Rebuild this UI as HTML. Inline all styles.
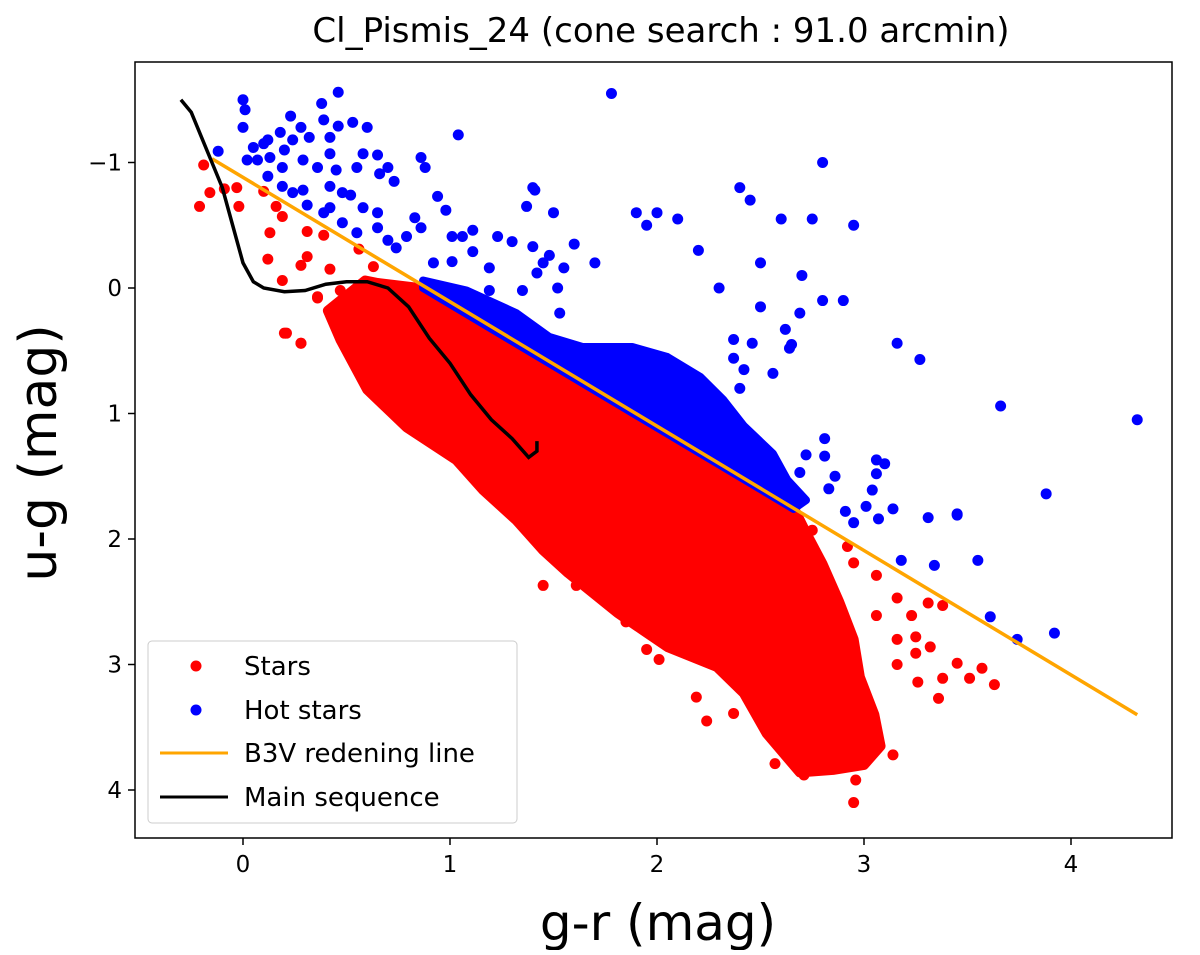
<!DOCTYPE html>
<html><head><meta charset="utf-8"><style>
body{margin:0;background:#fff}
svg{font-family:"DejaVu Sans","Liberation Sans",sans-serif}
</style></head><body>
<svg id="chart" width="1200" height="950">
<text x="661" y="42" text-anchor="middle" font-size="34">Cl_Pismis_24 (cone search : 91.0 arcmin)</text>
<g id="plot"></g>
<rect x="135" y="62" width="1037" height="776" fill="none" stroke="#000" stroke-width="1.5"/>
<g id="axes"></g>
<text x="658" y="940" text-anchor="middle" font-size="50">g-r (mag)</text>
<text transform="translate(56,453) rotate(-90)" text-anchor="middle" font-size="52">u-g (mag)</text>
<g>
<rect x="148" y="641" width="369" height="182" rx="4" fill="#fff" fill-opacity="0.85" stroke="#ccc"/>
<circle cx="196" cy="666" r="5.5" fill="red"/>
<text x="244" y="675" font-size="26">Stars</text>
<circle cx="196" cy="710" r="5.5" fill="blue"/>
<text x="244" y="719" font-size="26">Hot stars</text>
<line x1="160" x2="228" y1="753" y2="753" stroke="orange" stroke-width="3"/>
<text x="244" y="762" font-size="26">B3V redening line</text>
<line x1="160" x2="228" y1="797" y2="797" stroke="#000" stroke-width="3"/>
<text x="244" y="806" font-size="26">Main sequence</text>
</g>
</svg>
<script>
const xTicks=[0,1,2,3,4];
const yTicks=[-1,0,1,2,3,4];
const redCloud=[[0.59,-0.06],[0.65,-0.04],[0.85,0.0],[1.5,0.6],[2.0,1.1],[2.66,1.75],[2.72,1.95],[2.8,2.2],[2.88,2.5],[2.95,2.8],[2.98,3.1],[3.05,3.4],[3.08,3.65],[3.0,3.8],[2.85,3.84],[2.69,3.86],[2.53,3.55],[2.42,3.23],[2.29,3.02],[2.05,2.86],[1.81,2.59],[1.57,2.27],[1.45,2.09],[1.32,1.85],[1.16,1.61],[1.03,1.37],[0.79,1.11],[0.6,0.81],[0.47,0.41],[0.41,0.18]];
const blueCloud=[[0.87,-0.06],[1.08,0.02],[1.32,0.2],[1.48,0.39],[1.64,0.47],[1.88,0.47],[2.05,0.55],[2.21,0.71],[2.32,0.89],[2.42,1.1],[2.56,1.32],[2.63,1.53],[2.72,1.69],[2.66,1.76],[0.87,0.0]];
const redX=[-0.19,-0.21,-0.16,-0.03,-0.02,-0.09,0.19,0.13,0.12,0.19,0.31,0.31,0.28,0.42,0.36,0.47,0.56,0.63,0.16,0.1,0.39,0.21,0.28,2.75,2.92,2.95,3.06,3.16,3.31,3.38,3.23,3.06,3.25,3.16,3.32,3.25,3.16,3.45,3.57,3.51,3.38,3.26,3.63,3.36,2.24,2.19,2.57,2.71,2.95,2.96,3.14,1.95,1.85,2.01,2.37,1.45,1.61,0.2,0.28,0.36];
const redY=[-0.98,-0.65,-0.76,-0.8,-0.65,-0.79,-0.57,-0.44,-0.23,-0.06,-0.45,-0.25,-0.18,-0.15,0.08,0.02,-0.31,-0.17,-0.65,-0.77,-0.42,0.36,0.44,1.93,2.06,2.19,2.29,2.47,2.51,2.53,2.61,2.61,2.78,2.8,2.86,2.91,3.0,2.99,3.03,3.11,3.11,3.14,3.16,3.27,3.45,3.26,3.79,3.88,4.1,3.92,3.72,2.88,2.66,2.96,3.39,2.37,2.37,0.36,0.44,0.07];
const blueX=[0,0.01,0,0.46,0.38,0.39,0.46,0.53,0.6,0.23,1.04,-0.12,0.18,0.28,0.24,0.32,0.12,0.42,0.13,0.02,0.07,0.19,0.29,0.36,0.42,0.45,0.58,0.65,0.55,0.7,0.66,0.73,0.12,0.19,0.29,0.42,0.48,0.52,0.24,0.31,0.42,0.58,0.39,0.48,0.65,0.55,0.65,0.7,0.74,0.79,0.86,0.83,0.86,0.88,0.94,0.98,1.01,1.06,1.11,1.11,1.19,1.23,1.3,1.4,1.48,1.55,1.41,1.37,1.42,1.52,1.53,1.01,0.92,1.19,1.35,2.69,2.62,2.64,2.37,2.46,2.37,2.42,2.56,2.4,3.16,3.27,3.66,2.81,2.81,3.06,3.06,2.86,2.83,3.04,3.01,3.14,3.07,3.31,3.45,2.95,3.88,3.18,3.34,3.55,3.61,3.74,2.72,2.69,2.91,1.78,2.8,2.4,2.45,2.75,2.95,2.6,2.5,2.7,2.8,2.9,1.9,1.95,2.0,2.1,1.4,1.5,1.45,1.6,1.7,2.2,2.3,2.5,2.65,3.92,4.32,3.1,3.45,0.05,0.1,0.2];
const blueY=[-1.5,-1.42,-1.28,-1.56,-1.47,-1.34,-1.29,-1.32,-1.28,-1.37,-1.22,-1.09,-1.24,-1.28,-1.18,-1.2,-1.18,-1.2,-1.04,-1.02,-1.02,-0.96,-1.02,-0.96,-1.07,-0.94,-1.07,-1.06,-0.96,-0.96,-0.91,-0.85,-0.89,-0.81,-0.78,-0.81,-0.76,-0.74,-0.76,-0.66,-0.64,-0.64,-0.6,-0.52,-0.6,-0.44,-0.48,-0.38,-0.32,-0.41,-0.48,-0.56,-1.04,-0.96,-0.73,-0.62,-0.41,-0.41,-0.46,-0.29,-0.16,-0.41,-0.37,-0.33,-0.26,-0.16,-0.78,-0.65,-0.12,0.0,0.2,-0.21,-0.2,0.02,0.02,0.2,0.33,0.48,0.41,0.44,0.56,0.65,0.68,0.8,0.44,0.57,0.94,1.2,1.34,1.37,1.48,1.5,1.6,1.61,1.74,1.76,1.84,1.83,1.81,1.87,1.64,2.17,2.21,2.17,2.62,2.8,1.33,1.47,1.78,-1.55,-1.0,-0.8,-0.7,-0.55,-0.5,-0.55,-0.2,-0.1,0.1,0.1,-0.6,-0.5,-0.6,-0.55,-0.8,-0.6,-0.2,-0.35,-0.2,-0.3,0.0,0.15,0.45,2.75,1.05,1.4,1.8,-1.12,-1.15,-1.1];
const lineX=[-0.15,4.32];
const lineY=[-1.03,3.4];
const msX=[-0.3,-0.25,-0.2,-0.15,-0.1,-0.05,0.0,0.05,0.1,0.2,0.3,0.4,0.5,0.6,0.7,0.8,0.9,1.0,1.1,1.2,1.3,1.38,1.42,1.42];
const msY=[-1.5,-1.4,-1.2,-1.0,-0.8,-0.5,-0.2,-0.05,0.0,0.03,0.02,-0.03,-0.05,-0.05,0.0,0.15,0.4,0.6,0.85,1.05,1.2,1.35,1.3,1.22];
const sx=v=>243+207*v, sy=v=>288+125.5*v;
const ns="http://www.w3.org/2000/svg";
const plot=document.getElementById('plot'), axes=document.getElementById('axes');
function mk(t,a,p){const e=document.createElementNS(ns,t);for(const k in a)e.setAttribute(k,a[k]);p.appendChild(e);return e;}
let e=mk('polygon',{points:redCloud.map(p=>sx(p[0])+','+sy(p[1])).join(' '),fill:'red',stroke:'red','stroke-width':10,'stroke-linejoin':'round'},plot);


redX.forEach((x,i)=>{const c=mk('circle',{cx:sx(x),cy:sy(redY[i]),r:5.5,fill:'red'},plot);

});
e=mk('polygon',{points:blueCloud.map(p=>sx(p[0])+','+sy(p[1])).join(' '),fill:'blue',stroke:'blue','stroke-width':8,'stroke-linejoin':'round'},plot);


blueX.forEach((x,i)=>{const c=mk('circle',{cx:sx(x),cy:sy(blueY[i]),r:5.5,fill:'blue'},plot);

});
e=mk('line',{x1:sx(lineX[0]),y1:sy(lineY[0]),x2:sx(lineX[1]),y2:sy(lineY[1]),stroke:'orange','stroke-width':3.5},plot);


e=mk('polyline',{points:msX.map((x,i)=>sx(x)+','+sy(msY[i])).join(' '),fill:'none',stroke:'#000','stroke-width':3.5},plot);


xTicks.forEach(t=>{mk('line',{x1:sx(t),x2:sx(t),y1:838,y2:845,stroke:'#000','stroke-width':1.5},axes);
const tx=mk('text',{x:sx(t),y:872,'text-anchor':'middle','font-size':23},axes);tx.textContent=t;

});
yTicks.forEach(t=>{mk('line',{x1:128,x2:135,y1:sy(t),y2:sy(t),stroke:'#000','stroke-width':1.5},axes);
const tx=mk('text',{x:122,y:sy(t)+8,'text-anchor':'end','font-size':23},axes);tx.textContent=t<0?'\u2212'+(-t):t;

});
</script>
</body></html>
